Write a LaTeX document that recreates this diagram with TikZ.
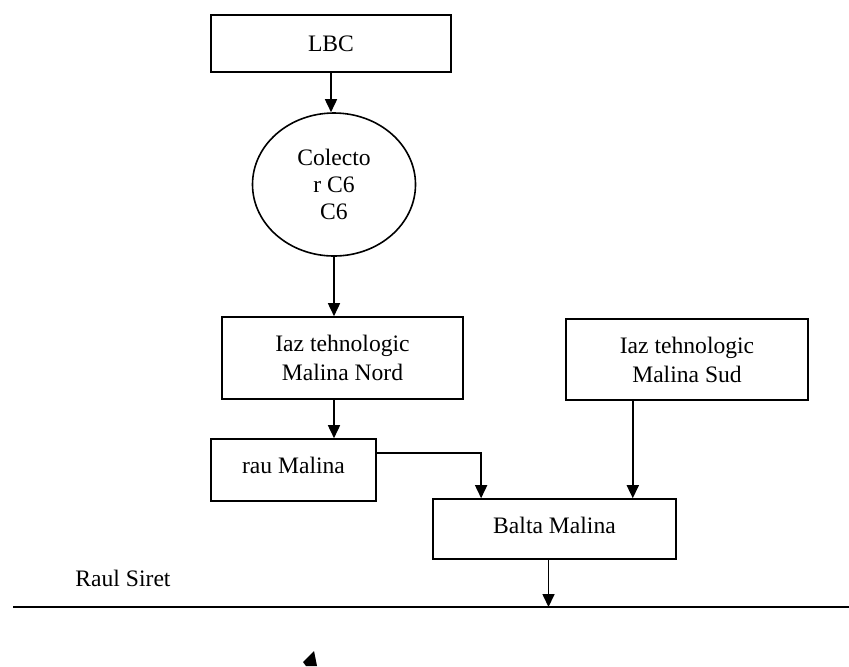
\documentclass[tikz,border=0pt]{standalone}
\usepackage{fontspec}
\setmainfont{Liberation Serif}
\usetikzlibrary{calc,shapes.geometric,arrows.meta}

\begin{document}
\begin{tikzpicture}[x=0.5pt,y=-0.5pt,line width=0.8pt,
	box/.style={rectangle, draw, align=center, inner sep=0pt, font=\fontsize{11.8}{14.5}\selectfont},
	flow/.style={-{Triangle[length=6.5pt,width=6pt]}}]
\useasboundingbox (0,0) rectangle (849,666);
\node[box, minimum width=120pt, minimum height=28.5pt] at (331,43.5)(lbc) {LBC};
\node[box, ellipse, minimum width=81.5pt, minimum height=71.5pt, font=\fontsize{11.8}{13.5}\selectfont] at (334,184.5)(col) {Colecto\\r C6\\C6};
\node[box, minimum width=120.5pt, minimum height=41pt] at (342.5,358)(nord) {Iaz tehnologic\\Malina Nord};
\node[box, minimum width=121pt, minimum height=40.5pt] at (687,359.5)(sud) {Iaz tehnologic\\Malina Sud};
\node[box, minimum width=82.5pt, minimum height=31pt] at (293.5,470)(rau) {\raisebox{4.5pt}{rau Malina}};
\node[box, minimum width=121.5pt, minimum height=30pt] at (554.5,529)(balta) {\raisebox{4pt}{Balta Malina}};
\node[font=\fontsize{11.8}{14}\selectfont] at (123,578)(siret) {Raul Siret};

\coordinate (rivL) at (13,607);
\coordinate (rivR) at (849,607);
\coordinate (in1) at ($(balta.north west)!0.2!(balta.north east)$);
\coordinate (in2) at ($(balta.north west)!0.82!(balta.north east)$);
\coordinate (out) at ([xshift=-3pt]balta.south);

\draw[flow] (lbc.south) -- (lbc.south |- col.north);
\draw[flow] (col.south) -- (col.south |- nord.north);
\draw[flow] (col.south |- nord.south) -- (col.south |- rau.north);
\draw[flow] ([yshift=8.5pt]rau.east) -| (in1);
\draw[flow] (sud.south -| in2) -- (in2);
\draw (rivL) -- (rivR);
\draw[flow] (out) -- (out |- rivL);

% cut-off tip at the bottom
\fill (303,662) -- (314,651) -- (317,666) -- (306,666) -- cycle;
\end{tikzpicture}
\end{document}
